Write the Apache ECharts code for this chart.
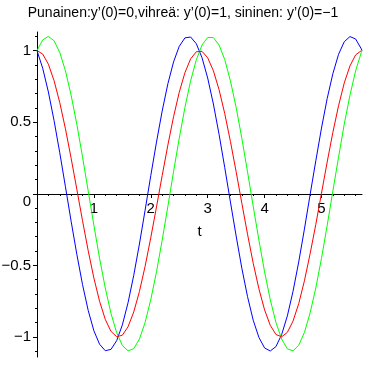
<!DOCTYPE html>
<html>
<head>
<meta charset="utf-8">
<script src="https://cdn.jsdelivr.net/npm/echarts@6/dist/echarts.min.js"></script>
<style>html,body{margin:0;padding:0;background:#fff}#c{width:366px;height:366px}</style>
</head>
<body>
<div id="c"></div>
<script>
var titleText = "Punainen:y\u2019(0)=0,vihre\u00e4: y\u2019(0)=1, sininen: y\u2019(0)=\u22121";
var tValues = [0,0.1,0.2,0.3,0.4,0.5,0.6,0.7,0.8,0.9,1.0,1.1,1.2,1.3,1.4,1.5,1.6,1.7,1.8,1.9,2.0,2.1,2.2,2.3,2.4,2.5,2.6,2.7,2.8,2.9,3.0,3.1,3.2,3.3,3.4,3.5,3.6,3.7,3.8,3.9,4.0,4.1,4.2,4.3,4.4,4.5,4.6,4.7,4.8,4.9,5.0,5.1,5.2,5.3,5.4,5.5,5.6,5.7,5.712];
var redY = [1,0.976,0.905,0.790,0.637,0.454,0.248,0.031,-0.188,-0.398,-0.589,-0.751,-0.877,-0.961,-0.998,-0.988,-0.929,-0.826,-0.683,-0.507,-0.306,-0.092,0.127,0.340,0.538,0.709,0.846,0.942,0.992,0.995,0.950,0.859,0.727,0.560,0.365,0.154,-0.066,-0.282,-0.485,-0.663,-0.811,-0.919,-0.983,-0.999,-0.968,-0.889,-0.767,-0.608,-0.419,-0.214,0.004,0.222,0.429,0.615,0.774,0.893,0.970,1.000,1];
var greenY = [1,1.075,1.099,1.069,0.987,0.859,0.688,0.485,0.258,0.019,-0.221,-0.451,-0.658,-0.835,-0.970,-1.060,-1.097,-1.082,-1.015,-0.899,-0.739,-0.545,-0.324,-0.088,0.155,0.388,0.603,0.789,0.936,1.039,1.092,1.091,1.039,0.937,0.788,0.603,0.388,0.154,-0.087,-0.323,-0.545,-0.740,-0.899,-1.015,-1.083,-1.097,-1.058,-0.969,-0.832,-0.658,-0.451,-0.221,0.019,0.256,0.486,0.688,0.859,0.988,1];
var blueY = [1,0.877,0.711,0.511,0.287,0.049,-0.192,-0.423,-0.634,-0.815,-0.957,-1.051,-1.096,-1.087,-1.026,-0.916,-0.761,-0.570,-0.351,-0.115,0.127,0.361,0.578,0.768,0.921,1.030,1.089,1.095,1.048,0.951,0.808,0.627,0.415,0.183,-0.058,-0.295,-0.520,-0.718,-0.883,-1.003,-1.077,-1.098,-1.067,-0.983,-0.853,-0.681,-0.476,-0.247,-0.006,0.230,0.459,0.665,0.839,0.974,1.062,1.098,1.081,1.012,1];
var xMajorTicks = [1,2,3,4,5];
var xMinorTicks = [0.2,0.4,0.6,0.8,1.2,1.4,1.6,1.8,2.2,2.4,2.6,2.8,3.2,3.4,3.6,3.8,4.2,4.4,4.6,4.8,5.2,5.4,5.6];
var yMajorTicks = [-1,-0.5,0,0.5,1];
var yMinorTicks = [-1.1,-0.9,-0.8,-0.7,-0.6,-0.4,-0.3,-0.2,-0.1,0.1,0.2,0.3,0.4,0.6,0.7,0.8,0.9,1.1];

function pairs(ys){ return tValues.map(function(t,i){ return [t, ys[i]]; }); }

var FONT = "Liberation Sans";
var xMin = 0, xMax = 5.712, yMin = -1.14, yMax = 1.13;
var GRID_TOP = 32, GRID_BOTTOM = 9, GRID_H = 366 - GRID_TOP - GRID_BOTTOM;
// shift the x axis up from the grid bottom to the y = 0 line
var xOff = -Math.round(GRID_H * (0 - yMin) / (yMax - yMin));

var chart = echarts.init(document.getElementById('c'), null, {renderer:'canvas'});
chart.setOption({
  animation: false,
  backgroundColor: '#fff',
  title: {
    text: titleText, left: 'center', top: 1,
    textStyle: {fontFamily: FONT, fontSize: 14, fontWeight: 'normal', color: '#000'}
  },
  grid: {left: 37, right: 4, top: GRID_TOP, bottom: GRID_BOTTOM, containLabel: false, outerBoundsMode: 'none'},
  xAxis: [{
    type: 'value', min: xMin, max: xMax, position: 'bottom', offset: xOff,
    axisLine: {show: true, onZero: false, lineStyle: {color: '#000', width: 1}},
    axisTick: {show: true, customValues: xMajorTicks, length: 4, lineStyle: {color: '#000'}},
    axisLabel: {show: true, customValues: xMajorTicks, margin: 7, fontFamily: FONT, fontSize: 15, color: '#000'},
    splitLine: {show: false},
    name: 't', nameLocation: 'middle', nameGap: 30,
    nameTextStyle: {fontFamily: FONT, fontSize: 15, color: '#000'}
  }, {
    type: 'value', min: xMin, max: xMax, position: 'bottom', offset: xOff,
    axisLine: {show: false, onZero: false},
    axisTick: {show: true, customValues: xMinorTicks, length: 2, lineStyle: {color: '#000'}},
    axisLabel: {show: false},
    splitLine: {show: false}
  }],
  yAxis: [{
    type: 'value', min: yMin, max: yMax, position: 'left',
    axisLine: {show: true, onZero: false, lineStyle: {color: '#000', width: 1}},
    axisTick: {show: true, customValues: yMajorTicks, length: 4, lineStyle: {color: '#000'}},
    axisLabel: {
      show: true, customValues: yMajorTicks, margin: 6, fontFamily: FONT, fontSize: 15, color: '#000',
      formatter: function(v){ if (v === 0) return '{z|0}'; return String(v).replace('-', '\u2212'); },
      rich: {z: {fontFamily: FONT, fontSize: 15, color: '#000', padding: [17,0,0,0]}}
    },
    splitLine: {show: false}
  }, {
    type: 'value', min: yMin, max: yMax, position: 'left',
    axisLine: {show: false, onZero: false},
    axisTick: {show: true, customValues: yMinorTicks, length: 2, lineStyle: {color: '#000'}},
    axisLabel: {show: false},
    splitLine: {show: false}
  }],
  series: [
    {type: 'line', data: pairs(blueY), showSymbol: false, symbol: 'none', lineStyle: {color: '#0000ff', width: 1}, xAxisIndex: 0, yAxisIndex: 0},
    {type: 'line', data: pairs(greenY), showSymbol: false, symbol: 'none', lineStyle: {color: '#00ff00', width: 1}, xAxisIndex: 0, yAxisIndex: 0},
    {type: 'line', data: pairs(redY), showSymbol: false, symbol: 'none', lineStyle: {color: '#ff0000', width: 1}, xAxisIndex: 0, yAxisIndex: 0}
  ]
});
</script>
</body>
</html>
